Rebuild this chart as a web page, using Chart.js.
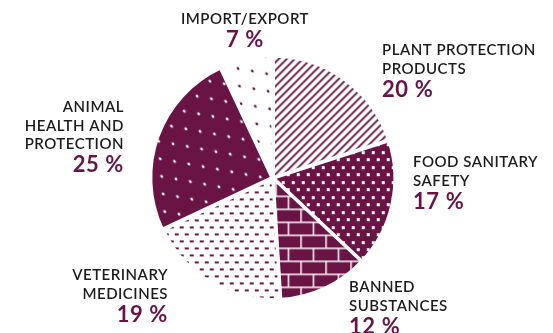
<!DOCTYPE html>
<html>
<head>
<meta charset="utf-8">
<script src="https://cdn.jsdelivr.net/npm/chart.js@4.4.1/dist/chart.umd.min.js"></script>
<style>
html,body{margin:0;padding:0;background:#fff;}
#wrap{width:553px;height:333px;position:relative;}
</style>
</head>
<body>
<div id="wrap"><canvas id="c"></canvas></div>
<script>
// ---- data ----
const categories = ["PLANT PROTECTION PRODUCTS", "FOOD SANITARY SAFETY", "BANNED SUBSTANCES", "VETERINARY MEDICINES", "ANIMAL HEALTH AND PROTECTION", "IMPORT/EXPORT"];
const shares = [20, 17, 12, 19, 25, 7];
const labelLines = [["PLANT PROTECTION", "PRODUCTS"], ["FOOD SANITARY", "SAFETY"], ["BANNED", "SUBSTANCES"], ["VETERINARY", "MEDICINES"], ["ANIMAL", "HEALTH AND", "PROTECTION"], ["IMPORT/EXPORT"]];
const percentLabels = ["20 %", "17 %", "12 %", "19 %", "25 %", "7 %"];

// ---- styles ----
const MAROON = "rgb(106,20,70)";
const TEXT = "#1e1b1c";
// label layout: x anchor, first baseline, alignment
const labelLayout = [
  {x: 382, y: 55, align: "left"},
  {x: 413, y: 167, align: "left"},
  {x: 349, y: 292, align: "left"},
  {x: 168, y: 280, align: "right"},
  {x: 124, y: 112, align: "right"},
  {x: 245, y: 24, align: "center"}
];

const ctx0 = document.createElement("canvas").getContext("2d");
function makePattern(w, h, draw, matrix) {
  const c = document.createElement("canvas");
  c.width = w; c.height = h;
  const g = c.getContext("2d");
  draw(g);
  const p = ctx0.createPattern(c, "repeat");
  if (matrix && p.setTransform) p.setTransform(matrix);
  return p;
}

// stripes (pixel-exact diagonal)
const pStripes = makePattern(8, 8, g => {
  g.fillStyle = "#fff"; g.fillRect(0, 0, 8, 8);
  for (let x = 0; x < 8; x++) for (let y = 0; y < 8; y++) {
    const m = (x + y) % 8;
    if (m === 0 || m === 1) { g.fillStyle = MAROON; g.fillRect(x, y, 1, 1); }
    else if (m === 2) { g.fillStyle = "rgba(106,20,70,0.6)"; g.fillRect(x, y, 1, 1); }
  }
});
// food: maroon with white squares, staggered
const pFood = makePattern(10, 15, g => {
  g.fillStyle = MAROON; g.fillRect(0, 0, 10, 15);
  g.fillStyle = "#fff";
  g.fillRect(1, 1, 3, 3);
  g.fillRect(6, 8, 3, 3);
});
// bricks
const pBricks = makePattern(25, 26, g => {
  g.fillStyle = MAROON; g.fillRect(0, 0, 25, 26);
  g.fillStyle = "#f6eef2";
  g.fillRect(0, 0, 25, 1.6);
  g.fillRect(0, 13, 25, 1.6);
  g.fillRect(0, 0, 1.6, 13);
  g.fillRect(12.5, 13, 1.6, 13);
});
// vet: white with short dashes
const pDashes = makePattern(10, 14, g => {
  g.fillStyle = "#fff"; g.fillRect(0, 0, 10, 14);
  g.fillStyle = MAROON;
  g.fillRect(0, 2, 4, 2);
  g.fillRect(5, 9, 4, 2);
});
// skewed lattice for sparse dots
const lattice = new DOMMatrix([14.3 / 14, 2.6 / 14, 1.5 / 18, 17.6 / 18, 0, 0]);
const pAnimal = makePattern(14, 18, g => {
  g.fillStyle = MAROON; g.fillRect(0, 0, 14, 18);
  g.fillStyle = "#fff";
  g.beginPath(); g.arc(7, 9, 1.4, 0, Math.PI * 2); g.fill();
}, lattice);
const pImport = makePattern(14, 18, g => {
  g.fillStyle = "#fff"; g.fillRect(0, 0, 14, 18);
  g.fillStyle = MAROON;
  g.beginPath(); g.arc(7, 9, 1.4, 0, Math.PI * 2); g.fill();
}, lattice);

const fills = [pStripes, pFood, pBricks, pDashes, pAnimal, pImport];

const labelPlugin = {
  id: "sliceLabels",
  afterDraw(chart) {
    const g = chart.ctx;
    g.save();
    labelLines.forEach((lines, i) => {
      const L = labelLayout[i];
      g.textAlign = L.align;
      g.textBaseline = "alphabetic";
      g.fillStyle = TEXT;
      g.font = "600 15px Lato";
      g.letterSpacing = "0.5px";
      let y = L.y;
      lines.forEach((t, k) => {
        g.fillText(t, L.x, y);
        if (k < lines.length - 1) y += 18.5;
      });
      g.fillStyle = MAROON;
      g.font = "bold 22px Lato";
      g.letterSpacing = "0.6px";
      g.fillText(percentLabels[i], L.x, y + 23);
    });
    g.restore();
  }
};

new Chart(document.getElementById("c"), {
  type: "pie",
  data: {
    labels: categories,
    datasets: [{
      data: shares,
      backgroundColor: fills,
      borderColor: "#fff",
      borderWidth: 3,
      offset: [3, 3, 2, 2, 5, 3],
      hoverOffset: 0
    }]
  },
  options: {
    responsive: true,
    maintainAspectRatio: false,
    animation: false,
    radius: 121,
    layout: {padding: {top: 23, right: 7, left: 0, bottom: 0}},
    plugins: {legend: {display: false}, tooltip: {enabled: false}},
    events: []
  },
  plugins: [labelPlugin]
});
</script>
</body>
</html>
